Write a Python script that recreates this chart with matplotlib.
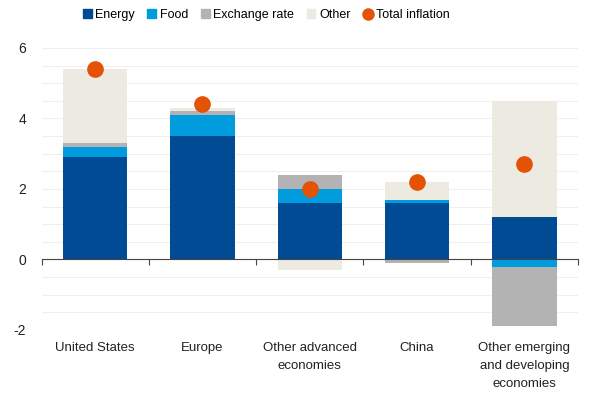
import numpy as np
import matplotlib
matplotlib.use("Agg")
import matplotlib.pyplot as plt
from matplotlib.lines import Line2D
from matplotlib.patches import Patch

plt.rcParams['font.family'] = ['Liberation Sans', 'DejaVu Sans']
plt.rcParams['axes.unicode_minus'] = False

regions = ['United States', 'Europe', 'Other advanced\neconomies', 'China',
           'Other emerging\nand developing\neconomies']
energy = [2.9, 3.5, 1.6, 1.6, 1.2]
food = [0.3, 0.6, 0.4, 0.1, -0.2]
exchange = [0.1, 0.1, 0.4, -0.1, -1.7]
other = [2.1, 0.1, -0.3, 0.5, 3.3]
total = [5.4, 4.4, 2.0, 2.2, 2.7]

series = [('Energy', energy, '#004B93'),
          ('Food', food, '#009CDE'),
          ('Exchange rate', exchange, '#B3B3B3'),
          ('Other', other, '#ECEAE1')]

fig = plt.figure(figsize=(5.94, 3.99), dpi=100)
ax = fig.add_axes([0.07, 0.173, 0.903, 0.707])

x = np.arange(len(regions))
pos_base = np.zeros(len(regions))
neg_base = np.zeros(len(regions))
for name, vals, col in series:
    vals = np.array(vals)
    base = np.where(vals >= 0, pos_base, neg_base)
    ax.bar(x, vals, bottom=base, width=0.6, color=col, zorder=2)
    pos_base = pos_base + np.clip(vals, 0, None)
    neg_base = neg_base + np.clip(vals, None, 0)

ax.plot(x, total, 'o', color='#E35205', markersize=11, zorder=4)

ax.set_xlim(-0.5, 4.5)
ax.set_ylim(-2, 6)
ax.set_yticks([-2, 0, 2, 4, 6])
ax.set_yticks(np.arange(-2, 6.01, 0.5), minor=True)
ax.grid(axis='y', which='both', color='#EFEFEF', lw=0.8, zorder=0)
ax.tick_params(axis='y', which='both', length=0, pad=11, labelsize=10, colors='#222222')

for s in ['top', 'right', 'left']:
    ax.spines[s].set_visible(False)
ax.spines['bottom'].set_position(('data', 0))
ax.spines['bottom'].set_color('#444444')
ax.spines['bottom'].set_zorder(3)
ax.set_xticks(np.arange(-0.5, 4.6, 1.0))
ax.set_xticklabels([])
ax.tick_params(axis='x', length=4, color='#444444', direction='out')

for xi, lab in zip(x, regions):
    ax.text(xi, -2.35, lab, ha='center', va='top', fontsize=9.5,
            linespacing=1.65, color='#222222')

handles = [Patch(color=col, label=name) for name, vals, col in series]
handles.append(Line2D([], [], marker='o', ls='', color='#E35205',
                      markersize=8, label='Total inflation'))
fig.legend(handles=handles, loc='center', bbox_to_anchor=(0.448, 0.962), ncol=5,
           frameon=False, fontsize=9, handlelength=0.7, handleheight=0.7,
           handletextpad=0.3, columnspacing=1.0)

fig.savefig('out.png', dpi=100)
